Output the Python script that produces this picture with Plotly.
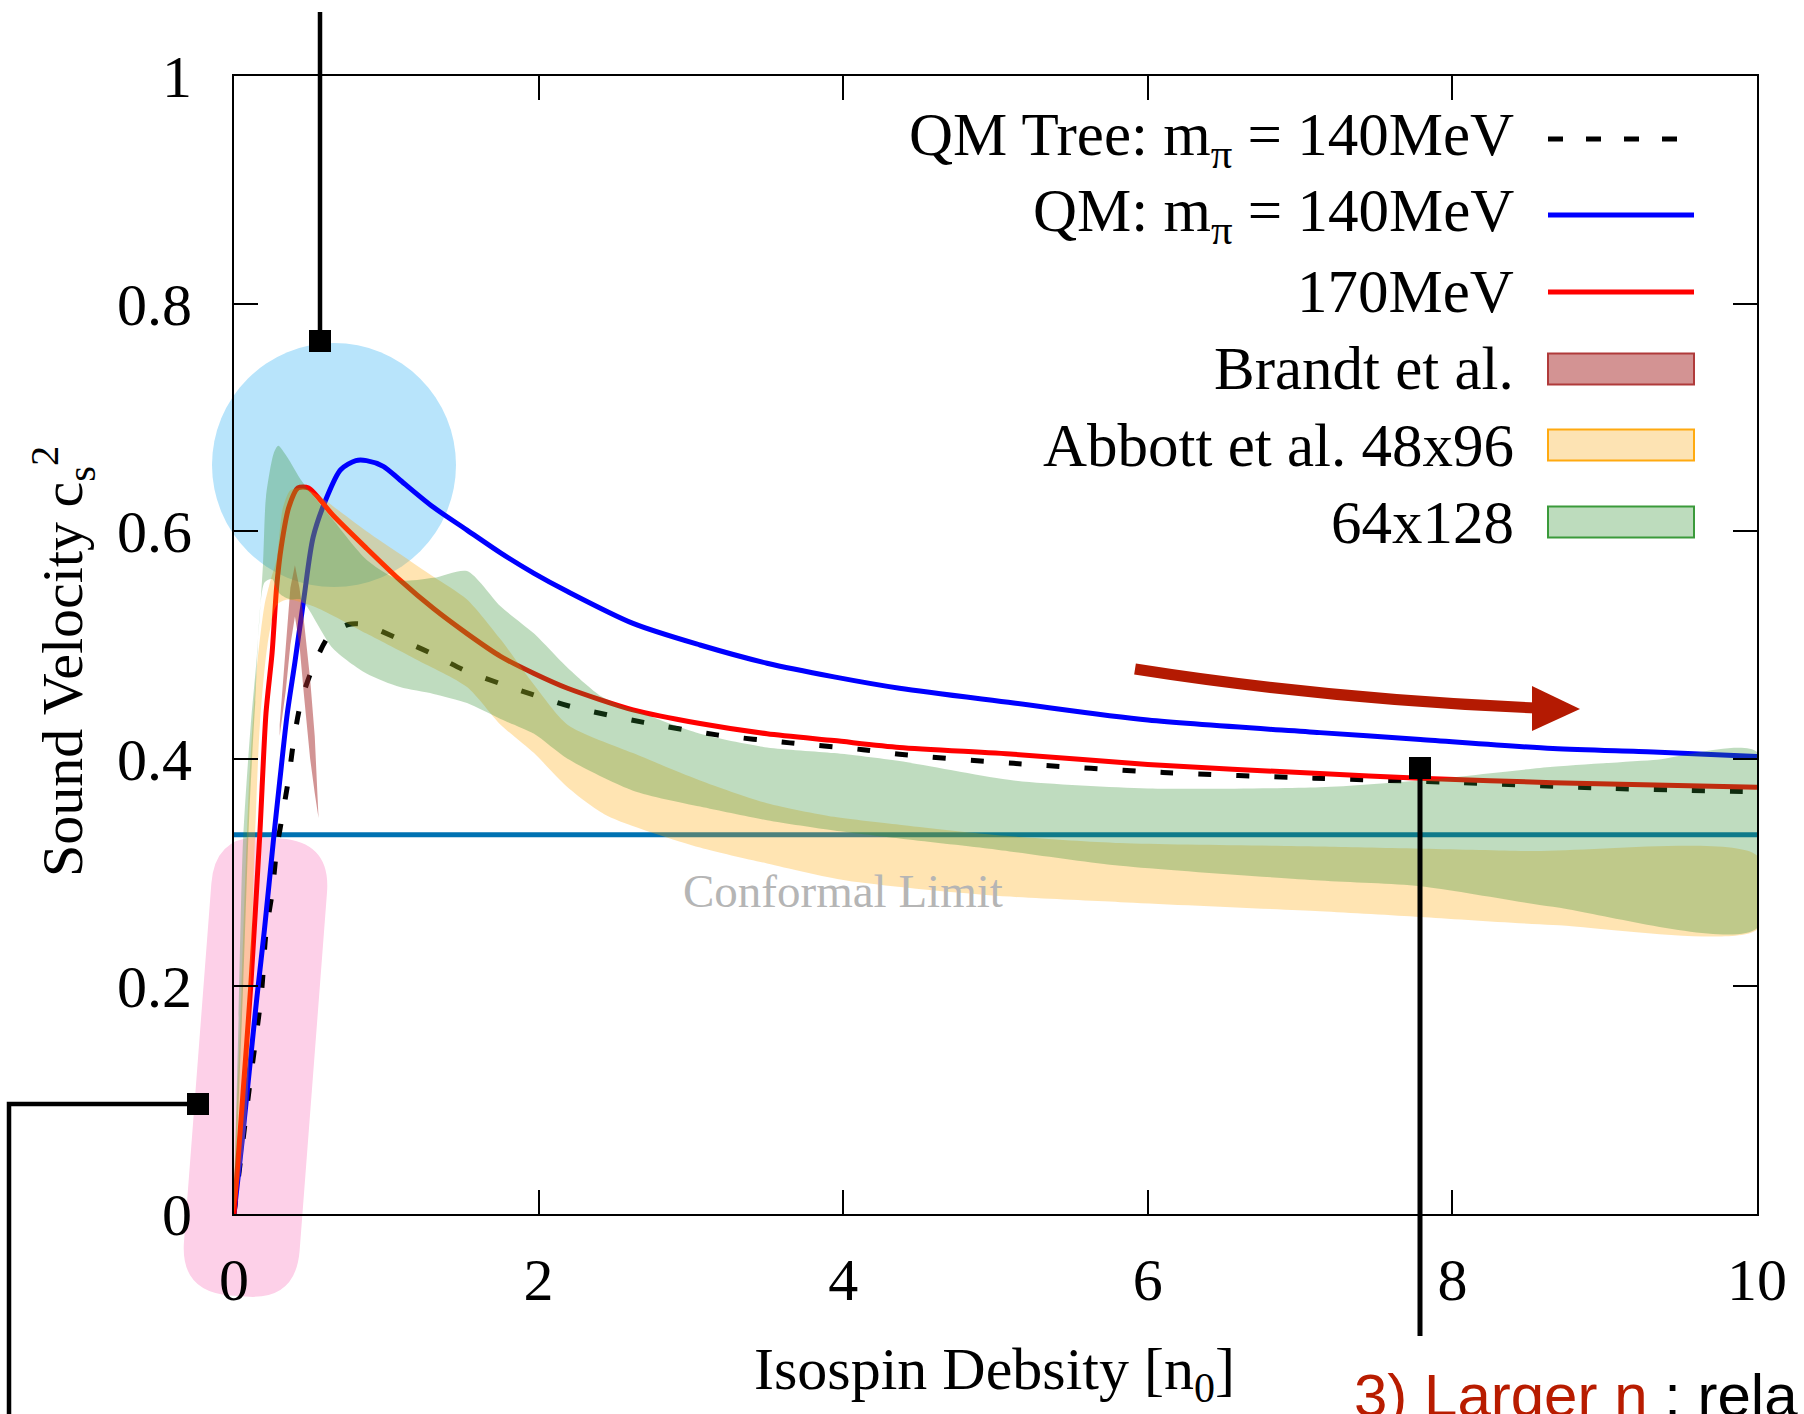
import plotly.graph_objects as go

# ---------------- data ----------------
x_range = [0, 10]
y_range = [0, 1]
x_ticks = [0, 2, 4, 6, 8, 10]
y_ticks = [0, 0.2, 0.4, 0.6, 0.8, 1.0]
y_tick_text = ["0", "0.2", "0.4", "0.6", "0.8", "1"]
conformal_limit = 1.0 / 3.0

# QM tree level, m_pi = 140 MeV (dashed)
n_tree = [0, 0.05, 0.10, 0.18, 0.21, 0.25, 0.28, 0.32, 0.36, 0.39, 0.44, 0.52, 0.63,
          0.75, 0.85, 1.07, 1.29, 1.51, 1.75, 1.97, 2.21, 2.69, 3.17, 3.65, 4.13,
          4.37, 5.12, 6.10, 7.09, 8.07, 9.04, 10.0]
cs2_tree = [0, 0.055, 0.11, 0.194, 0.247, 0.282, 0.32, 0.352, 0.384, 0.414, 0.45, 0.481,
            0.509, 0.518, 0.518, 0.506, 0.493, 0.478, 0.466, 0.456, 0.446, 0.432, 0.421,
            0.414, 0.408, 0.404, 0.396, 0.388, 0.383, 0.379, 0.374, 0.371]

# QM, m_pi = 140 MeV (blue)
n_qm140 = [0, 0.05, 0.10, 0.15, 0.20, 0.26, 0.30, 0.35, 0.40, 0.46, 0.52, 0.61, 0.70,
           0.80, 0.87, 0.98, 1.09, 1.31, 1.53, 1.75, 1.97, 2.19, 2.62, 3.06, 3.50,
           3.94, 4.37, 5.12, 6.00, 7.13, 7.79, 8.66, 9.32, 10.0]
cs2_qm140 = [0, 0.06, 0.125, 0.19, 0.25, 0.33, 0.38, 0.44, 0.485, 0.542, 0.595, 0.63,
             0.654, 0.662, 0.662, 0.657, 0.645, 0.621, 0.601, 0.581, 0.563, 0.547, 0.519,
             0.50, 0.484, 0.472, 0.462, 0.449, 0.434, 0.423, 0.417, 0.409, 0.406, 0.402]

# QM, m_pi = 170 MeV (red)
n_qm170 = [0, 0.05, 0.11, 0.17, 0.21, 0.25, 0.28, 0.31, 0.36, 0.42, 0.49, 0.65, 0.87,
           1.09, 1.31, 1.53, 1.75, 1.97, 2.19, 2.62, 3.06, 3.50, 3.94, 4.37, 5.12,
           6.00, 7.13, 7.79, 8.66, 10.0]
cs2_qm170 = [0, 0.09, 0.20, 0.335, 0.44, 0.493, 0.551, 0.586, 0.621, 0.638, 0.638, 0.614,
             0.585, 0.557, 0.532, 0.51, 0.49, 0.475, 0.462, 0.443, 0.431, 0.422, 0.416,
             0.41, 0.404, 0.395, 0.387, 0.383, 0.379, 0.375]

# Brandt et al. band
n_brandt = [0.30, 0.34, 0.37, 0.40, 0.43, 0.46, 0.50, 0.53, 0.555]
cs2_brandt_hi = [0.43, 0.50, 0.55, 0.57, 0.55, 0.52, 0.47, 0.42, 0.35]
cs2_brandt_lo = [0.42, 0.46, 0.50, 0.525, 0.50, 0.455, 0.40, 0.37, 0.348]

# Abbott et al. 48x96 band
n_abbott_hi = [0, 0.05, 0.10, 0.15, 0.20, 0.24, 0.28, 0.32, 0.37, 0.45, 0.55, 0.65, 0.87,
               1.09, 1.31, 1.53, 1.75, 1.97, 2.19, 2.62, 3.06, 3.50, 3.94, 4.37, 5.0,
               5.82, 7.13, 8.5, 10.0]
cs2_abbott_hi = [0, 0.20, 0.38, 0.48, 0.535, 0.557, 0.575, 0.62, 0.636, 0.638, 0.632,
                 0.622, 0.60, 0.58, 0.56, 0.54, 0.505, 0.465, 0.43, 0.405, 0.381, 0.361,
                 0.349, 0.342, 0.333, 0.326, 0.323, 0.319, 0.315]
n_abbott_lo = [0, 0.08, 0.13, 0.17, 0.22, 0.28, 0.35, 0.54, 0.87, 1.2, 1.53, 1.75, 1.97,
               2.19, 2.45, 3.06, 3.50, 4.02, 4.96, 5.82, 7.13, 7.79, 8.66, 10.0]
cs2_abbott_lo = [0, 0.08, 0.30, 0.43, 0.50, 0.535, 0.54, 0.533, 0.51, 0.487, 0.463, 0.43,
                 0.405, 0.375, 0.35, 0.322, 0.308, 0.293, 0.28, 0.274, 0.266, 0.261,
                 0.254, 0.25]

# Abbott et al. 64x128 band
n_64_hi = [0, 0.03, 0.06, 0.11, 0.15, 0.19, 0.21, 0.26, 0.29, 0.35, 0.44, 0.65, 0.87,
           1.09, 1.31, 1.53, 1.75, 1.97, 2.19, 2.41, 2.62, 3.06, 3.50, 3.94, 4.37, 5.12,
           6.00, 7.13, 7.79, 8.66, 9.32, 10.0]
cs2_64_hi = [0, 0.17, 0.33, 0.43, 0.49, 0.57, 0.63, 0.668, 0.675, 0.665, 0.645, 0.61,
             0.575, 0.557, 0.559, 0.565, 0.534, 0.51, 0.48, 0.455, 0.443, 0.422, 0.41,
             0.405, 0.398, 0.381, 0.374, 0.375, 0.381, 0.393, 0.399, 0.406]
n_64_lo = [0, 0.06, 0.10, 0.14, 0.20, 0.25, 0.30, 0.37, 0.44, 0.65, 0.87, 1.09, 1.31,
           1.53, 1.75, 1.97, 2.19, 2.62, 3.06, 3.50, 3.94, 4.37, 4.96, 5.82, 7.13, 7.79,
           8.66, 10.0]
cs2_64_lo = [0, 0.20, 0.35, 0.45, 0.555, 0.558, 0.545, 0.54, 0.54, 0.497, 0.475, 0.463,
             0.457, 0.449, 0.435, 0.422, 0.40, 0.372, 0.358, 0.346, 0.337, 0.33, 0.321,
             0.306, 0.293, 0.288, 0.27, 0.251]

legend_labels = ["QM Tree: m<sub>π</sub> = 140MeV", "QM: m<sub>π</sub> = 140MeV", "170MeV",
                 "Brandt et al.", "Abbott et al. 48x96", "64x128"]

# ---------------- styling ----------------
SERIF = "Liberation Serif, Times New Roman, serif"
SANS = "Liberation Sans, Arial, sans-serif"
W, H = 1804, 1414
L, R, T, B = 234, 47, 76, 200
PW, PH = W - L - R, H - T - B


def PX(X):
    return (X - L) / PW


def PY(Y):
    return (H - B - Y) / PH


def pt(X, Y):
    return f"{PX(X):.5f},{PY(Y):.5f}"


def band(nh, yh, nl, yl):
    return list(nh) + list(nl)[::-1], list(yh) + list(yl)[::-1]


fig = go.Figure()

fig.add_trace(go.Scatter(x=x_range, y=[conformal_limit, conformal_limit], mode="lines",
                         line=dict(color="#0072b2", width=5), showlegend=False, hoverinfo="skip"))
fig.add_trace(go.Scatter(x=n_tree, y=cs2_tree, mode="lines",
                         line=dict(color="black", width=5, dash="13px,25px",
                                   shape="spline", smoothing=0.8), showlegend=False))
fig.add_trace(go.Scatter(x=n_qm140, y=cs2_qm140, mode="lines",
                         line=dict(color="#0000ff", width=5, shape="spline", smoothing=0.8),
                         showlegend=False))
fig.add_trace(go.Scatter(x=n_qm170, y=cs2_qm170, mode="lines",
                         line=dict(color="#ff0000", width=5, shape="spline", smoothing=0.7),
                         showlegend=False))

bx, by = band(n_brandt, cs2_brandt_hi, n_brandt, cs2_brandt_lo)
fig.add_trace(go.Scatter(x=bx, y=by, fill="toself", fillcolor="rgba(165,42,42,0.5)",
                         mode="lines", line=dict(width=0), showlegend=False))
ax, ay = band(n_abbott_hi, cs2_abbott_hi, n_abbott_lo, cs2_abbott_lo)
fig.add_trace(go.Scatter(x=ax, y=ay, fill="toself", fillcolor="rgba(255,165,0,0.30)",
                         mode="lines", line=dict(width=0, shape="spline", smoothing=0.7),
                         showlegend=False))
gx, gy = band(n_64_hi, cs2_64_hi, n_64_lo, cs2_64_lo)
fig.add_trace(go.Scatter(x=gx, y=gy, fill="toself", fillcolor="rgba(48,142,48,0.31)",
                         mode="lines", line=dict(width=0, shape="spline", smoothing=0.7),
                         showlegend=False))

shapes = []

# light-blue highlight circle
shapes.append(dict(type="circle", xref="paper", yref="paper", layer="below",
                   x0=PX(212), x1=PX(456), y0=PY(587), y1=PY(343),
                   fillcolor="#b8e4fb", line=dict(width=0)))


# pink tilted rounded rectangle
def rounded_path(corners, r):
    import math
    n = len(corners)
    s = ""
    for i in range(n):
        p0 = corners[i - 1]
        p1 = corners[i]
        p2 = corners[(i + 1) % n]

        def tow(a, b, d):
            dx, dy = b[0] - a[0], b[1] - a[1]
            ln = math.hypot(dx, dy)
            return (a[0] + dx * d / ln, a[1] + dy * d / ln)
        a = tow(p1, p0, r)
        b = tow(p1, p2, r)
        s += ("M " if i == 0 else "L ") + pt(*a) + " Q " + pt(*p1) + " " + pt(*b) + " "
    return s + "Z"


def tilted_rect(top, bot, hw):
    import math
    dx, dy = bot[0] - top[0], bot[1] - top[1]
    ln = math.hypot(dx, dy)
    nx, ny = dy / ln, -dx / ln
    return [(top[0] - hw * nx, top[1] - hw * ny), (top[0] + hw * nx, top[1] + hw * ny),
            (bot[0] + hw * nx, bot[1] + hw * ny), (bot[0] - hw * nx, bot[1] - hw * ny)]


shapes.append(dict(type="path", xref="paper", yref="paper", layer="below",
                   path=rounded_path(tilted_rect((273, 838), (238, 1296), 58), 50),
                   fillcolor="#fdd0e8", line=dict(width=0)))

# black callout lines with square ends
shapes.append(dict(type="line", xref="paper", yref="paper", layer="above",
                   x0=PX(320), x1=PX(320), y0=PY(12), y1=PY(341),
                   line=dict(color="black", width=4.5)))
shapes.append(dict(type="path", xref="paper", yref="paper", layer="above",
                   path=f"M {pt(198, 1104)} L {pt(9, 1104)} L {pt(9, 1430)}",
                   line=dict(color="black", width=4.5)))
shapes.append(dict(type="line", xref="paper", yref="paper", layer="above",
                   x0=PX(1420), x1=PX(1420), y0=PY(768), y1=PY(1336),
                   line=dict(color="black", width=5)))
for (cx, cy) in [(320, 341), (198, 1104), (1420, 768)]:
    shapes.append(dict(type="rect", xref="paper", yref="paper", layer="above",
                       x0=PX(cx - 11), x1=PX(cx + 11), y0=PY(cy + 11), y1=PY(cy - 11),
                       fillcolor="black", line=dict(width=0)))

# red curved arrow
shapes.append(dict(type="path", xref="paper", yref="paper", layer="above",
                   path=f"M {pt(1135, 669)} Q {pt(1325, 699)} {pt(1536, 708)}",
                   line=dict(color="#b41a02", width=11)))
shapes.append(dict(type="path", xref="paper", yref="paper", layer="above",
                   path=f"M {pt(1532, 686)} L {pt(1580, 709)} L {pt(1532, 731)} Z",
                   fillcolor="#b41a02", line=dict(width=0)))

# legend samples
leg_y = [139, 215, 292, 369, 445, 522]
sx0, sx1 = 1548, 1694
shapes.append(dict(type="line", xref="paper", yref="paper", x0=PX(sx0), x1=PX(sx1),
                   y0=PY(leg_y[0]), y1=PY(leg_y[0]),
                   line=dict(color="black", width=5, dash="15px,23px")))
shapes.append(dict(type="line", xref="paper", yref="paper", x0=PX(sx0), x1=PX(sx1),
                   y0=PY(leg_y[1]), y1=PY(leg_y[1]), line=dict(color="#0000ff", width=5)))
shapes.append(dict(type="line", xref="paper", yref="paper", x0=PX(sx0), x1=PX(sx1),
                   y0=PY(leg_y[2]), y1=PY(leg_y[2]), line=dict(color="#ff0000", width=5)))
for yy, fc, lc in [(leg_y[3], "#d39393", "#b03a3a"),
                   (leg_y[4], "#fde3b3", "#ffaa10"),
                   (leg_y[5], "#bddcbd", "#3a9a3a")]:
    shapes.append(dict(type="rect", xref="paper", yref="paper",
                       x0=PX(sx0), x1=PX(sx1), y0=PY(yy + 15.5), y1=PY(yy - 15.5),
                       fillcolor=fc, line=dict(color=lc, width=2)))

annotations = []
for yy, txt in zip(leg_y, legend_labels):
    annotations.append(dict(xref="paper", yref="paper", x=PX(1516), y=PY(yy),
                            xanchor="right", yanchor="middle", text=txt, showarrow=False,
                            font=dict(family=SERIF, size=61, color="black")))

annotations.append(dict(xref="x", yref="y", x=4, y=0.284, text="Conformal Limit",
                        showarrow=False, xanchor="center", yanchor="middle",
                        font=dict(family=SERIF, size=47, color="#b5b5b5")))

annotations.append(dict(xref="paper", yref="paper", x=PX(994), y=PY(1373),
                        text="Isospin Debsity [n<sub>0</sub>]", showarrow=False,
                        xanchor="center", yanchor="middle",
                        font=dict(family=SERIF, size=60, color="black")))
annotations.append(dict(xref="paper", yref="paper", x=PX(63), y=PY(662),
                        text="Sound Velocity c<sub>s</sub><sup>2</sup>", showarrow=False,
                        textangle=-90, xanchor="center", yanchor="middle",
                        font=dict(family=SERIF, size=58, color="black")))
annotations.append(dict(xref="paper", yref="paper", x=PX(1352), y=PY(1360),
                        text="<span style='color:#b81c00'>3) Larger n</span> : rela",
                        showarrow=False, xanchor="left", yanchor="top",
                        font=dict(family=SANS, size=60, color="black")))

axis_common = dict(ticks="inside", ticklen=24, tickwidth=1.5, tickcolor="black",
                   showline=True, linecolor="black", linewidth=2, mirror="ticks",
                   showgrid=False, zeroline=False,
                   tickfont=dict(family=SERIF, size=60, color="black"))

fig.update_layout(
    width=W, height=H, autosize=False,
    margin=dict(l=L, r=R, t=T, b=B, pad=0),
    paper_bgcolor="white", plot_bgcolor="rgba(0,0,0,0)",
    showlegend=False,
    xaxis=dict(range=x_range, tickvals=x_ticks, ticklabelstandoff=12, **axis_common),
    yaxis=dict(range=y_range, tickvals=y_ticks, ticktext=y_tick_text,
               ticklabelstandoff=28, **axis_common),
    shapes=shapes, annotations=annotations,
)

fig.write_html("out.html")
